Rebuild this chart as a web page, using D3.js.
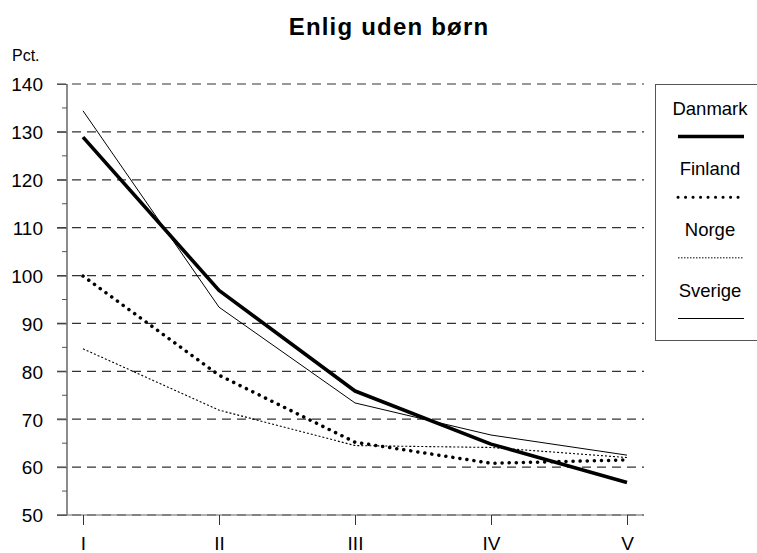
<!DOCTYPE html>
<html><head><meta charset="utf-8">
<script src="https://cdn.jsdelivr.net/npm/d3@7"></script>
<style>body{margin:0;background:#fff}svg{display:block;font-family:"Liberation Sans",Arial,sans-serif}</style>
</head><body><svg id="c" width="757" height="553"></svg>
<script>
const categories = ["I","II","III","IV","V"];
const seriesNames = ["Danmark","Finland","Norge","Sverige"];
const danmark = [128.9, 96.9, 75.9, 64.8, 56.8];
const finland = [99.9, 79.2, 65.2, 60.8, 61.5];
const norge = [84.7, 71.9, 64.5, 64.1, 62.0];
const sverige = [134.4, 93.4, 73.4, 66.7, 62.5];
const yTicks = [50,60,70,80,90,100,110,120,130,140];

const series = [
  {name:"Danmark", values:danmark, width:3.6, dash:null, cap:"butt", lw:3.6, ldash:null},
  {name:"Finland", values:finland, width:3.5, dash:"0.1,7", cap:"round", lw:3, ldash:"0.1,7.4"},
  {name:"Norge", values:norge, width:1.1, dash:"2,2", cap:"butt", lw:1, ldash:"1.5,1.5"},
  {name:"Sverige", values:sverige, width:1, dash:null, cap:"butt", lw:1, ldash:null}
];

const svg = d3.select("#c");
const x = d3.scalePoint().domain(categories).range([83,627]);
const y = d3.scaleLinear().domain([50,140]).range([515,84]);
const FONT = "Liberation Sans, Arial, sans-serif";

// title
svg.append("text").attr("x",389).attr("y",35).attr("text-anchor","middle")
  .attr("font-size",24).attr("font-weight","bold").attr("letter-spacing",1.2).text("Enlig uden børn");
svg.append("text").attr("x",12).attr("y",61).attr("font-size",16).text("Pct.");

// gridlines
svg.append("line").attr("x1",57).attr("x2",644).attr("y1",y(50)).attr("y2",y(50))
  .attr("stroke","#999").attr("stroke-width",1.5);
svg.append("g").selectAll("line").data(yTicks).join("line")
  .attr("x1",57).attr("x2",644).attr("y1",d=>y(d)).attr("y2",d=>y(d))
  .attr("stroke",d=>d===50?"#555":"#333").attr("stroke-width",1.2).attr("stroke-dasharray","9,6");

// y axis
const yAxis = d3.axisLeft(y).tickValues(yTicks).tickSize(10).tickPadding(14);
const gy = svg.append("g").attr("transform","translate(67,0)").call(yAxis);
gy.select(".domain").attr("stroke","#666").attr("stroke-width",1.5).attr("d","M0,84V515");
gy.selectAll(".tick line").attr("stroke","#555");
gy.selectAll(".tick text").attr("font-size",19).attr("fill","#000").attr("font-family",FONT).attr("dy","0.36em");
// minor ticks
const minor = d3.range(55,140,10);
svg.append("g").selectAll("line").data(minor).join("line")
  .attr("x1",62).attr("x2",67).attr("y1",d=>y(d)).attr("y2",d=>y(d)).attr("stroke","#555");

// x axis
const xAxis = d3.axisBottom(x).tickSize(10).tickPadding(12);
const gx = svg.append("g").attr("transform","translate(0,515)").call(xAxis);
gx.select(".domain").remove();
gx.selectAll(".tick line").attr("stroke","#333");
gx.selectAll(".tick text").attr("font-size",19).attr("fill","#000").attr("font-family",FONT);

// lines
const line = d3.line().x((d,i)=>x(categories[i])).y(d=>y(d));
series.forEach(s=>{
  svg.append("path").datum(s.values).attr("d",line).attr("fill","none")
    .attr("stroke","#000").attr("stroke-width",s.width)
    .attr("stroke-dasharray",s.dash).attr("stroke-linecap",s.cap).attr("stroke-linejoin","round");
});

// legend
const lg = svg.append("g");
lg.append("rect").attr("x",655.5).attr("y",84.5).attr("width",110).attr("height",256)
  .attr("fill","#fff").attr("stroke","#555").attr("stroke-width",1);
const ly = d3.scaleLinear().domain([0,3]).range([108,290]);
series.forEach((s,i)=>{
  lg.append("text").attr("x",710).attr("y",ly(i)).attr("text-anchor","middle")
    .attr("font-size",18.5).attr("dy","0.36em").text(s.name);
  lg.append("line").attr("x1",678).attr("x2",744).attr("y1",ly(i)+28.5).attr("y2",ly(i)+28.5)
    .attr("stroke","#000").attr("stroke-width",s.lw).attr("stroke-dasharray",s.ldash)
    .attr("stroke-linecap",s.cap);
});
</script></body></html>
